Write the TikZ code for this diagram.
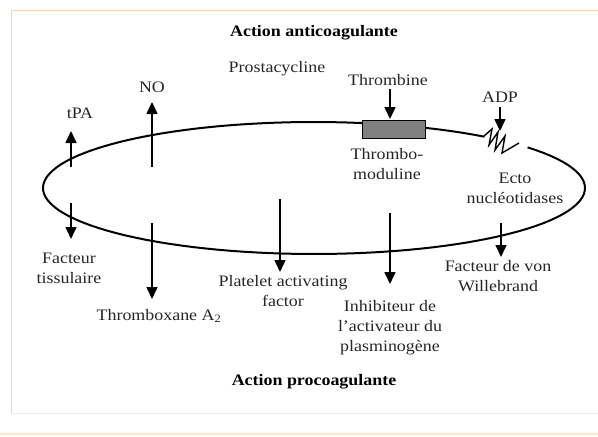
\documentclass[tikz,border=0pt]{standalone}
\usepackage{fontspec}
\setmainfont{Liberation Serif}[FakeStretch=1.12]
\usetikzlibrary{arrows.meta}

\begin{document}
\begin{tikzpicture}[x=1pt, y=-1pt, every node/.style={font=\fontsize{16}{20}\selectfont, text=black!85, align=center, inner sep=0pt},
	>={Triangle[length=12pt, width=11pt]}, effect/.style={->, line width=1.6pt},
	heading/.style={font=\fontsize{16}{20}\selectfont\bfseries, text=black}]
	\useasboundingbox (0,0) rectangle (598,437);
	% faint frame of the slide
	\draw[orange!35, line width=1pt] (11,413) -- (11,10) -- (598,10);
	\draw[black!8, line width=1pt] (11,413) -- (598,413);
	\draw[orange!20, line width=1.5pt] (0,434) -- (598,434);
	% the cell membrane, open at the ecto-nucleotidases
	\draw[line width=2pt] plot[domain=51:398, samples=120] ({314+271*cos(\x)},{188-66*sin(\x)});
	\draw[line width=1.4pt, line join=miter] (484,136) -- (492,129) -- (489,145) -- (498,132) -- (495,150) -- (505,136) -- (502,153) -- (519,143);
	\node[draw=black, line width=1pt, fill=black!50, minimum width=63pt, minimum height=18pt] (tm) at (393.5,129) {};
	% labels
	\node[heading] (anti) at (314,33) {Action anticoagulante};
	\node (prosta) at (277,69) {Prostacycline};
	\node (no) at (152,87) {NO};
	\node (tpa) at (80,113) {tPA};
	\node (thrombine) at (388,80) {Thrombine};
	\node (adp) at (500,97) {ADP};
	\node (tmod) at (387,164) {Thrombo-\\moduline};
	\node (ecto) at (515,188) {Ecto\\nucléotidases};
	\node (ft) at (69,268) {Facteur\\tissulaire};
	\node (txa) at (159,316) {Thromboxane A\textsubscript{2}};
	\node (paf) at (283,291) {Platelet activating\\factor};
	\node (pai) at (390,328) {Inhibiteur de\\l'activateur du\\plasminogène};
	\node (vwf) at (498,276) {Facteur de von\\Willebrand};
	\node[heading] (pro) at (314,382) {Action procoagulante};
	% arrow ends
	\coordinate (tpa-s) at (71,167);   \coordinate (tpa-e) at (71,131);
	\coordinate (no-s) at (152,167);   \coordinate (no-e) at (152,102);
	\coordinate (thr-s) at (390,89);   \coordinate (thr-e) at (390,119);
	\coordinate (adp-s) at (500,107);  \coordinate (adp-e) at (500,131);
	\coordinate (ft-s) at (71,203);    \coordinate (ft-e) at (71,239);
	\coordinate (txa-s) at (152,223);  \coordinate (txa-e) at (152,299);
	\coordinate (paf-s) at (280,199);  \coordinate (paf-e) at (280,272);
	\coordinate (pai-s) at (390,213);  \coordinate (pai-e) at (390,284);
	\coordinate (vwf-s) at (501,223);  \coordinate (vwf-e) at (501,257);
	\draw[effect] (tpa-s) -- (tpa-e);
	\draw[effect] (no-s) -- (no-e);
	\draw[effect] (thr-s) -- (thr-e);
	\draw[effect] (adp-s) -- (adp-e);
	\draw[effect] (ft-s) -- (ft-e);
	\draw[effect] (txa-s) -- (txa-e);
	\draw[effect] (paf-s) -- (paf-e);
	\draw[effect] (pai-s) -- (pai-e);
	\draw[effect] (vwf-s) -- (vwf-e);
\end{tikzpicture}
\end{document}
